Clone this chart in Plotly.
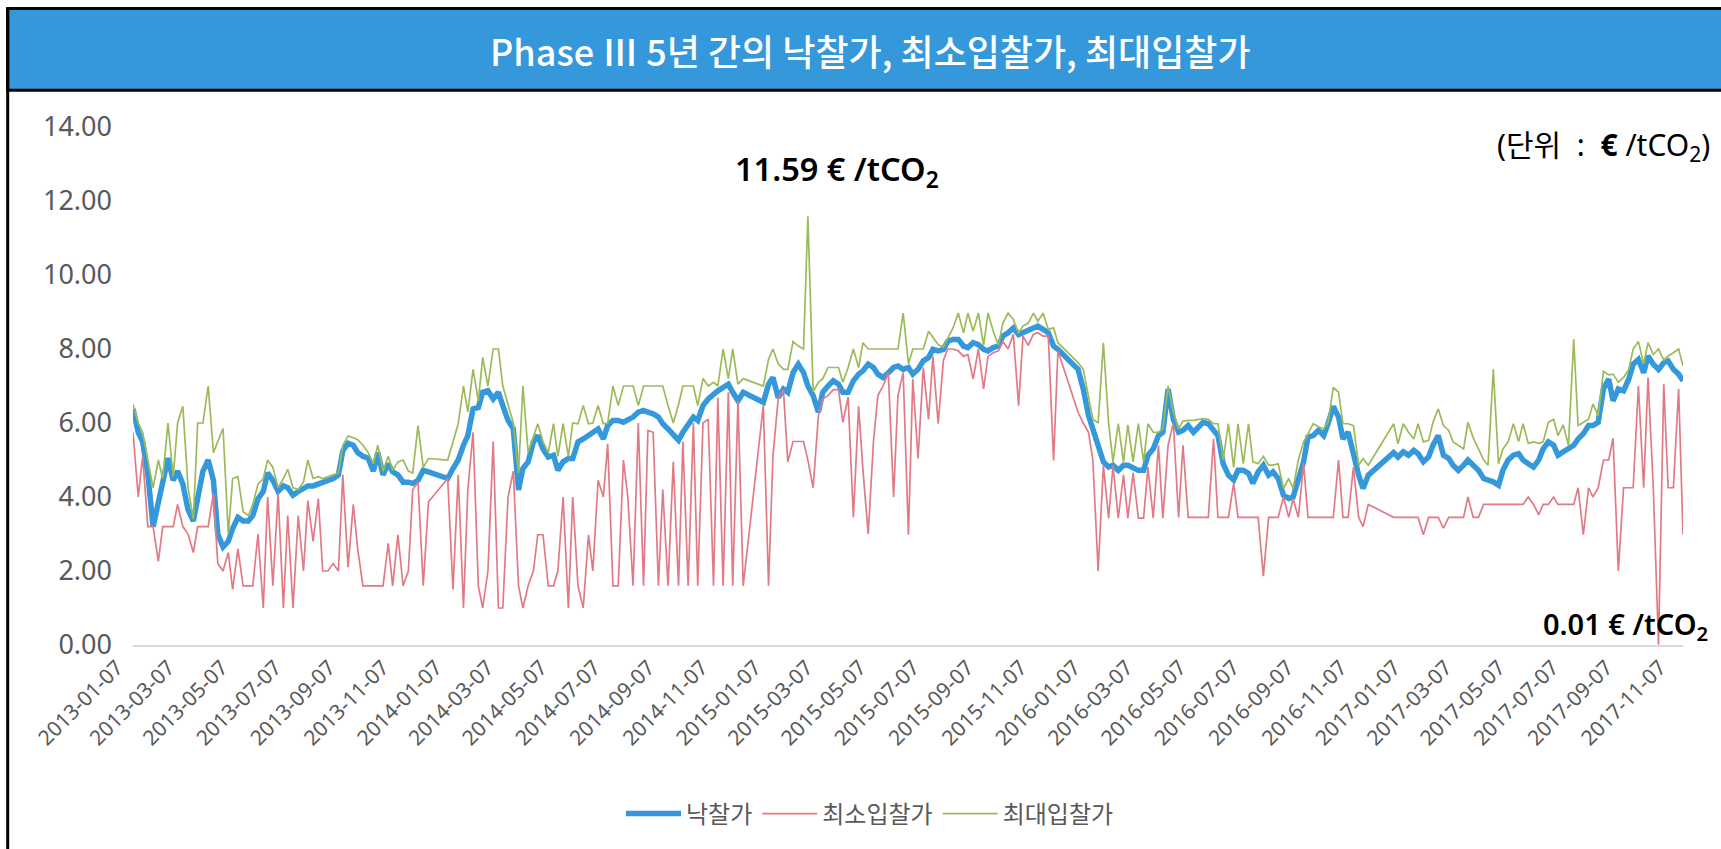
import pandas as pd
import plotly.graph_objects as go

# ---------------- data ----------------
BASE_DATE = "2013-01-07"

# auction sample dates, as day offsets from BASE_DATE
auction_day = [
    0, 6, 11, 17, 23, 29, 34, 40, 46, 51,
    57, 63, 69, 74, 80, 86, 92, 97, 103, 109,
    114, 120, 126, 132, 137, 143, 149, 154, 160, 166,
    172, 177, 183, 189, 195, 200, 206, 212, 217, 223,
    229, 235, 240, 246, 252, 257, 263, 269, 275, 280,
    286, 292, 297, 303, 309, 315, 320, 326, 332, 338,
    343, 349, 355, 360, 366, 372, 378, 383, 389, 395,
    400, 406, 412, 418, 423, 429, 435, 441, 446, 452,
    458, 463, 469, 475, 481, 486, 492, 498, 503, 509,
    515, 521, 526, 532, 538, 543, 549, 555, 561, 566,
    572, 578, 584, 589, 595, 601, 606, 612, 618, 624,
    629, 635, 641, 646, 652, 658, 664, 669, 675, 681,
    686, 692, 698, 704, 709, 715, 721, 727, 732, 738,
    744, 749, 755, 761, 767, 772, 778, 784, 789, 795,
    801, 807, 812, 818, 824, 830, 835, 841, 847, 852,
    858, 864, 870, 875, 881, 887, 892, 898, 904, 910,
    915, 921, 927, 932, 938, 944, 950, 955, 961, 967,
    973, 978, 984, 990, 995, 1001, 1007, 1013, 1018, 1024,
    1030, 1035, 1041, 1047, 1053, 1058, 1064, 1070, 1076, 1081,
    1087, 1093, 1098, 1104, 1110, 1116, 1121, 1127, 1133, 1138,
    1144, 1150, 1156, 1161, 1167, 1173, 1178, 1184, 1190, 1196,
    1201, 1207, 1213, 1219, 1224, 1230, 1236, 1241, 1247, 1253,
    1259, 1264, 1270, 1276, 1281, 1287, 1293, 1299, 1304, 1310,
    1316, 1322, 1327, 1333, 1339, 1344, 1350, 1356, 1362, 1367,
    1373, 1379, 1384, 1390, 1396, 1402, 1407, 1413, 1419, 1424,
    1430, 1436, 1442, 1447, 1453, 1459, 1465, 1470, 1476, 1482,
    1487, 1493, 1499, 1505, 1510, 1516, 1522, 1527, 1533, 1539,
    1545, 1550, 1556, 1562, 1567, 1573, 1579, 1585, 1590, 1596,
    1602, 1608, 1613, 1619, 1625, 1630, 1636, 1642, 1648, 1653,
    1659, 1665, 1670, 1676, 1682, 1688, 1693, 1699, 1705, 1711,
    1716, 1722, 1728, 1733, 1739, 1745, 1751, 1756, 1762, 1768,
    1773,
]

# 낙찰가 (clearing price), None = no auction (holiday break)
win_p1 = [6.38, 5.75, 5.5, 4.6, 3.2, 3.9, 4.3, 5.05, 4.45, 4.7, 4.35, 3.65, 3.35, 3.9, 4.7, 5.0, 4.45, 3.0, 2.65, 2.8,
          3.15, 3.45, 3.35, 3.35, 3.5, 3.95, 4.15, 4.65, 4.45, 4.15, 4.3, 4.25, 4.05, 4.15, 4.25, 4.3, 4.3, 4.35, 4.4, 4.45,
          4.5, 4.6, 5.25, 5.45, 5.4, 5.2, 5.1, 5.05, 4.7, 5.2, 4.6, 4.9]
win_p2 = [4.68, 4.6, 4.4, 4.4, 4.37, 4.45, 4.72, 4.68, None, None, None, 4.5, 4.77, 5.0, 5.4, 5.66, 6.38, 6.42, 6.83, 6.87,
          6.65, 6.83, 6.47, 6.07, 5.84, 4.19, 4.77, 4.95, 5.49, 5.66, 5.3, 5.08, 5.13, 4.72, 4.95, 5.04, 5.04, 5.49, 5.57, 5.66,
          5.71, 5.84, 5.57, 5.93, 6.07, 6.07, 6.02, 6.07, 6.16, 6.29, 6.34, 6.29]
win_p3 = [6.25, 6.16, 5.98, 5.84, 5.66, 5.53, 5.75, 5.98, 6.16, 6.07, 6.47, 6.65, 6.78, 6.87, 6.96, 7.05, 6.83, 6.6, 6.83, None,
          None, None, 6.56, 7.05, 7.23, 6.69, 6.92, 6.83, 7.36, 7.59, 7.36, 7.0, 6.74, 6.29, 6.83, 7.0, 7.14, 7.05, 6.83, 6.83,
          7.14, 7.32, 7.41, 7.59, 7.5, 7.32, 7.23, 7.36, 7.5, 7.54, 7.45, 7.5]
win_p4 = [7.32, 7.45, 7.68, 7.77, 7.99, 7.95, 7.99, 8.21, 8.26, 8.26, 8.08, 8.04, 8.17, 8.12, 7.99, 7.95, 8.04, 8.08, 8.35, 8.44,
          8.57, 8.39, 8.44, 8.53, 8.57, 8.62, 8.53, 8.44, 8.08, 7.99, None, None, None, 7.45, 6.92, 6.2, 5.84, 5.4, 4.95, 4.81,
          4.86, 4.72, 4.86, 4.86, 4.77, 4.72, 4.72, 5.13, 5.3, 5.66, 5.75, 6.92]
win_p5 = [6.1, 5.75, 5.8, 5.93, 5.75, 5.93, 6.02, 5.98, 5.8, 5.66, 4.9, 4.59, 4.46, 4.72, 4.72, 4.64, 4.37, 4.68, 4.86, 4.59,
          4.68, 4.5, 4.05, 3.96, 4.0, 4.5, 4.95, 5.62, 5.66, 5.8, 5.66, 5.98, 6.45, 6.16, 5.57, 5.75, 5.13, 4.59, 4.23, 4.59,
          None, None, None, None, 5.2, 5.08, 5.22, 5.13, 5.26, 5.17, 4.95, 5.08]
win_p6 = [5.4, 5.66, 5.13, 5.04, 4.86, 4.72, 4.86, 5.0, 4.86, 4.72, 4.5, 4.46, 4.41, 4.32, 4.72, 5.0, 5.13, 5.17, 5.0, 4.9,
          4.81, 5.0, 5.3, 5.49, 5.4, 5.13, 5.22, 5.3, 5.4, 5.57, 5.71, 5.93, 5.93, 6.02, 6.92, 7.19, 6.6, 6.92, 6.87, 7.19,
          7.59, 7.72, 7.36, 7.81, 7.59, 7.45, 7.63, 7.68, 7.45, 7.32, 7.14]

# 최소입찰가 (lowest bid)
min_p1 = [5.75, 4.0, 5.1, 3.2, 3.2, 2.26, 3.2, 3.2, 3.2, 3.8, 3.2, 3.0, 2.5, 3.2, 3.2, 3.2, 4.1, 2.2, 2.0, 2.5,
          1.5, 2.6, 1.6, 1.6, 1.6, 3.0, 1.0, 4.0, 1.6, 4.1, 1.0, 3.5, 1.0, 3.5, 2.0, 3.9, 2.8, 3.96, 2.0, 2.0,
          2.2, 2.0, 4.6, 2.1, 3.8, 2.6, 1.6, 1.6, 1.6, 1.6, 1.6, 2.75]
min_p2 = [1.6, 2.98, 1.6, 2.0, 4.2, 4.4, 1.6, 3.87, None, None, None, 4.5, 1.5, 4.6, 1.0, 4.2, 5.75, 1.6, 1.0, 2.0,
          5.5, 1.0, 1.0, 4.0, 4.7, 1.6, 1.0, 1.6, 2.0, 2.98, 2.98, 1.6, 1.6, 2.0, 4.0, 1.0, 4.0, 1.6, 1.0, 2.98,
          2.0, 4.45, 4.0, 5.44, 1.6, 1.6, 5.0, 4.0, 1.6, 6.0, 1.6, 5.8]
min_p3 = [5.75, 1.6, 4.2, 1.6, 4.95, 1.6, 5.5, 1.6, 6.0, 1.6, 6.0, 6.1, 1.6, 6.69, 1.6, 6.83, 1.6, 6.6, 1.6, None,
          None, None, 6.47, 1.6, 5.1, 6.65, 6.9, 4.95, 5.5, 5.5, 5.5, 4.99, 4.25, 6.2, 6.65, 6.74, 6.9, 6.9, 6.02, 6.7,
          3.45, 6.45, 4.72, 3.0, 5.5, 6.74, 7.0, 7.36, 4.0, 6.74, 7.36, 2.98]
min_p4 = [7.19, 5.04, 7.5, 6.1, 7.8, 5.98, 7.7, 8.0, 8.0, 7.95, 7.8, 7.85, 7.19, 8.0, 6.92, 7.8, 7.9, 7.95, 8.2, 8.0,
          8.4, 6.47, 8.35, 8.1, 8.4, 8.44, 8.35, 8.35, 4.99, 7.95, None, None, None, 6.29, 6.0, 5.75, 4.99, 2.0, 4.85, 3.43,
          4.85, 3.43, 4.6, 3.43, 4.65, 3.43, 3.43, 4.8, 3.43, 5.4, 3.43, 5.4]
min_p5 = [6.0, 3.45, 5.4, 3.45, 3.45, 3.45, 3.45, 3.45, 5.57, 3.45, 3.45, 3.45, 4.37, 3.45, 3.45, 3.45, 3.45, 3.45, 1.86, 3.45,
          3.45, 3.45, 4.0, 3.45, 3.95, 3.45, 4.9, 3.45, 3.45, 3.45, 3.45, 3.45, 3.45, 5.0, 3.45, 3.45, 4.8, 3.45, 3.2, 3.8,
          None, None, None, None, 3.45, 3.45, 3.45, 3.45, 3.45, 3.45, 2.98, 3.45]
min_p6 = [3.45, 3.45, 3.16, 3.45, 3.45, 3.45, 3.45, 4.0, 3.45, 3.45, 3.8, 3.8, 3.8, 3.8, 3.8, 3.8, 3.8, 3.8, 3.8, 4.0,
          3.8, 3.52, 3.8, 3.8, 4.0, 3.8, 3.8, 3.8, 3.8, 4.25, 2.98, 4.25, 4.0, 4.25, 5.0, 5.0, 5.59, 2.0, 4.25, 4.25,
          4.25, 7.0, 4.25, 7.23, 4.25, 0.01, 7.05, 4.25, 4.25, 6.92, 2.98]

# 최대입찰가 (highest bid)
max_p1 = [6.51, 6.0, 5.75, 5.0, 4.25, 5.0, 4.5, 6.0, 4.55, 6.0, 6.45, 4.25, 3.4, 6.0, 6.0, 7.0, 5.2, 5.5, 5.85, 3.0,
          4.5, 4.55, 3.6, 3.5, 3.8, 4.35, 4.5, 5.0, 4.8, 4.25, 4.5, 4.75, 4.25, 4.2, 4.4, 5.0, 4.5, 4.55, 4.5, 4.55,
          4.6, 4.65, 5.4, 5.65, 5.6, 5.55, 5.4, 5.2, 4.9, 5.4, 4.7, 5.1]
max_p2 = [4.72, 4.95, 5.0, 4.7, 4.65, 5.93, 4.8, 5.04, None, None, None, 5.0, 5.5, 5.98, 7.0, 6.3, 7.45, 6.6, 7.77, 7.0,
          8.0, 8.0, 7.0, 6.5, 6.0, 4.64, 7.0, 5.2, 5.6, 5.98, 5.5, 5.2, 5.98, 5.1, 5.98, 5.1, 6.0, 5.98, 6.47, 5.98,
          6.0, 6.47, 5.98, 6.0, 7.0, 6.47, 7.0, 7.0, 7.0, 6.47, 7.0, 7.0]
max_p3 = [7.0, 7.0, 7.0, 6.47, 6.0, 6.5, 7.0, 7.0, 7.0, 6.47, 7.2, 7.0, 7.1, 7.0, 8.0, 7.2, 8.0, 7.05, 7.2, None,
          None, None, 7.0, 7.72, 8.0, 7.6, 7.45, 7.45, 8.2, 8.08, 8.0, 11.59, 6.85, 7.1, 7.2, 7.5, 7.5, 7.5, 7.1, 7.5,
          8.0, 7.5, 8.17, 8.0, 8.0, 8.0, 8.0, 8.0, 8.0, 8.0, 8.97, 7.6]
max_p4 = [8.0, 8.0, 8.0, 8.48, 8.3, 8.12, 8.05, 8.3, 8.57, 8.97, 8.44, 8.97, 8.48, 8.97, 8.1, 8.97, 8.48, 8.1, 8.7, 8.97,
          8.8, 8.43, 8.62, 8.7, 8.97, 8.75, 8.97, 8.53, 8.57, 8.17, None, None, None, 7.63, 7.45, 6.65, 6.1, 6.0, 8.17, 5.98,
          4.95, 5.98, 4.95, 5.95, 4.95, 5.98, 4.95, 5.98, 5.75, 5.75, 5.84, 7.0]
max_p5 = [6.3, 5.84, 6.05, 6.07, 6.07, 6.1, 6.12, 6.1, 5.98, 5.98, 5.0, 5.98, 4.8, 5.98, 4.9, 5.98, 4.95, 4.9, 5.1, 4.86,
          4.86, 4.9, 4.23, 4.5, 4.23, 5.0, 5.49, 5.7, 5.98, 5.9, 5.84, 6.02, 6.96, 6.83, 5.98, 5.98, 5.93, 4.86, 5.04, 4.86,
          None, None, None, None, 5.98, 5.44, 5.98, 5.75, 5.57, 5.98, 5.49, 5.53]
max_p6 = [6.02, 6.38, 5.93, 5.8, 5.49, 5.4, 5.3, 6.02, 5.6, 5.3, 5.0, 4.86, 7.45, 4.9, 5.3, 5.49, 5.98, 5.5, 5.98, 5.45,
          5.49, 5.45, 5.49, 6.02, 6.1, 5.66, 5.95, 5.4, 8.26, 5.93, 6.02, 6.1, 6.51, 6.2, 7.4, 7.3, 7.32, 7.1, 7.23, 7.45,
          8.0, 8.2, 7.6, 8.17, 7.85, 8.0, 7.7, 7.81, 7.9, 8.0, 7.54]

series_names = ["낙찰가", "최소입찰가", "최대입찰가"]
tick_labels = [
    "2013-01-07", "2013-03-07", "2013-05-07", "2013-07-07", "2013-09-07", "2013-11-07",
    "2014-01-07", "2014-03-07", "2014-05-07", "2014-07-07", "2014-09-07", "2014-11-07",
    "2015-01-07", "2015-03-07", "2015-05-07", "2015-07-07", "2015-09-07", "2015-11-07",
    "2016-01-07", "2016-03-07", "2016-05-07", "2016-07-07", "2016-09-07", "2016-11-07",
    "2017-01-07", "2017-03-07", "2017-05-07", "2017-07-07", "2017-09-07", "2017-11-07",
]
y_ticks = [0, 2, 4, 6, 8, 10, 12, 14]
title_text = "Phase Ⅲ 5년 간의 낙찰가, 최소입찰가, 최대입찰가"
max_label = "11.59 € /tCO<sub>2</sub>"
min_label = "0.01 € /tCO<sub>2</sub>"
unit_label = "(단위\u00a0\u00a0:\u00a0\u00a0<b>€</b> /tCO<sub>2</sub>)"

# ---------------- assemble ----------------
dates = pd.Timestamp(BASE_DATE) + pd.to_timedelta(auction_day, unit="D")
winning = win_p1 + win_p2 + win_p3 + win_p4 + win_p5 + win_p6
lowest = min_p1 + min_p2 + min_p3 + min_p4 + min_p5 + min_p6
highest = max_p1 + max_p2 + max_p3 + max_p4 + max_p5 + max_p6

W, H = 1721, 849
L, R, T, B = 133, 1683, 127, 648


def px_x(x):
    return (x - L) / (R - L)


def px_y(y):
    return (B - y) / (B - T)


FONT = "Noto Sans, Noto Sans CJK KR, sans-serif"
GREY = "#595959"

fig = go.Figure()
fig.add_trace(go.Scatter(x=dates, y=winning, name=series_names[0], mode="lines",
                         line=dict(color="#3498DB", width=5.5), connectgaps=True))
fig.add_trace(go.Scatter(x=dates, y=lowest, name=series_names[1], mode="lines",
                         line=dict(color="#E27A86", width=1.7), connectgaps=True))
fig.add_trace(go.Scatter(x=dates, y=highest, name=series_names[2], mode="lines",
                         line=dict(color="#9BBB59", width=1.7), connectgaps=True))

fig.update_xaxes(
    type="date", range=[dates[0], dates[-1]],
    tickvals=pd.to_datetime(tick_labels), ticktext=tick_labels, tickangle=-45,
    tickfont=dict(family=FONT, size=21, color=GREY), ticklabelshift=-16,
    showgrid=False, zeroline=False, showline=True, linecolor="#D9D9D9", linewidth=2,
    ticks="", automargin=False,
)
fig.update_yaxes(
    range=[0, 14], tickvals=y_ticks, ticktext=[f"{v:.2f}" for v in y_ticks],
    tickfont=dict(family=FONT, size=27, color=GREY),
    showgrid=False, zeroline=False, showline=False, ticks="", ticklabelstandoff=20,
    automargin=False,
)

shapes = [
    # title band
    dict(type="rect", xref="paper", yref="paper", x0=px_x(7.7), x1=px_x(1760), y0=px_y(90), y1=px_y(7.7),
         fillcolor="#3598DB", line=dict(color="black", width=3), layer="above"),
    # outer chart border
    dict(type="rect", xref="paper", yref="paper", x0=px_x(7.7), x1=px_x(1760), y0=px_y(920), y1=px_y(7.7),
         fillcolor="rgba(0,0,0,0)", line=dict(color="black", width=3), layer="above"),
]

annotations = [
    dict(text=title_text, xref="paper", yref="paper", x=px_x(870), y=px_y(50), xanchor="center", yanchor="middle",
         showarrow=False, font=dict(family="Noto Sans CJK KR, Noto Sans", size=36, color="white", weight=500)),
    dict(text=max_label, xref="paper", yref="paper", x=px_x(837), y=px_y(171), xanchor="center", yanchor="middle",
         showarrow=False, font=dict(family=FONT, size=32.5, color="black", weight=600)),
    dict(text=min_label, xref="paper", yref="paper", x=px_x(1541), y=px_y(628), xanchor="left", yanchor="middle",
         showarrow=False, font=dict(family=FONT, size=29, color="black", weight=600)),
    dict(text=unit_label, xref="paper", yref="paper", x=px_x(1712), y=px_y(146), xanchor="right", yanchor="middle",
         showarrow=False, font=dict(family=FONT, size=30, color="black")),
]

fig.update_layout(
    width=W, height=H,
    margin=dict(l=L, r=W - R, t=T, b=H - B, pad=0),
    paper_bgcolor="white", plot_bgcolor="white",
    shapes=shapes, annotations=annotations,
    showlegend=True,
    legend=dict(orientation="h", x=px_x(870), y=px_y(818), xanchor="center", yanchor="middle",
                font=dict(family=FONT, size=24, color=GREY), itemwidth=55, bgcolor="rgba(0,0,0,0)"),
)

fig.write_html(
    "out.html",
    config={"displayModeBar": False},
    post_script="document.body.style.margin='0';document.body.style.overflow='hidden';",
)
